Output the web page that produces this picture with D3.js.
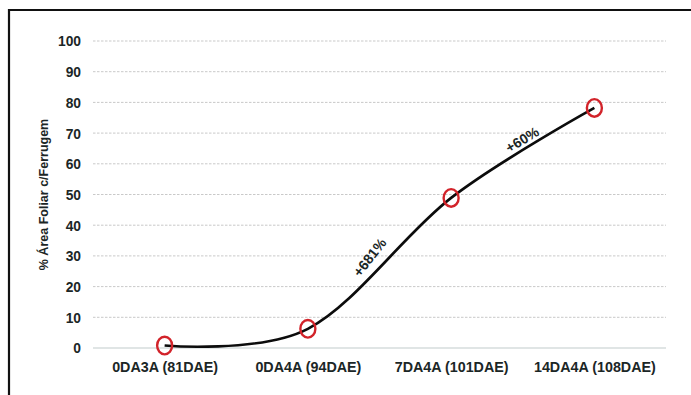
<!DOCTYPE html>
<html>
<head>
<meta charset="utf-8">
<script src="https://cdn.jsdelivr.net/npm/d3@7"></script>
<style>
  html, body { margin: 0; padding: 0; background: #fff; }
  svg { display: block; font-family: "Liberation Sans", Arial, sans-serif; }
</style>
</head>
<body>
<svg id="chart" width="691" height="395"></svg>
<script>
// Rust leaf-area progression by evaluation date
const categories = ["0DA3A (81DAE)", "0DA4A (94DAE)", "7DA4A (101DAE)", "14DA4A (108DAE)"];
const rustArea = [0.8, 6.26, 48.9, 78.2];
const yTicks = [0, 10, 20, 30, 40, 50, 60, 70, 80, 90, 100];
const increaseLabels = [
  { from: 1, to: 2, text: "+681%" },
  { from: 2, to: 3, text: "+60%" }
];
const yTitle = "% Área Foliar c/Ferrugem";

const svg = d3.select("#chart");
const textColor = "#1b2626";

// frame
svg.append("path")
  .attr("d", "M9,395 L9,10 L691,10")
  .attr("fill", "none")
  .attr("stroke", "#111")
  .attr("stroke-width", 2.2);

const x = d3.scalePoint().domain(categories).range([93, 666]).padding(0.5);
const y = d3.scaleLinear().domain([0, 100]).range([348, 41]);

// gridlines
svg.append("g").selectAll("line")
  .data(yTicks)
  .join("line")
  .attr("x1", 93).attr("x2", 666)
  .attr("y1", d => y(d)).attr("y2", d => y(d))
  .attr("stroke", d => d === 0 ? "#d6dcdc" : "#c9c9c9")
  .attr("stroke-width", d => d === 0 ? 1.4 : 1)
  .attr("stroke-dasharray", d => d === 0 ? null : "2.5,1.5");

// y axis labels
const yAxis = d3.axisLeft(y).tickValues(yTicks).tickSize(0).tickPadding(0);
const gy = svg.append("g").attr("transform", "translate(81,0)").call(yAxis);
gy.select(".domain").remove();
gy.selectAll("text")
  .attr("fill", textColor)
  .attr("font-size", 13.8)
  .attr("font-weight", "bold")
  .attr("dy", "0.36em");

// x axis labels
const xAxis = d3.axisBottom(x).tickSize(0).tickPadding(0);
const gx = svg.append("g").attr("transform", "translate(0,362)").call(xAxis);
gx.select(".domain").remove();
gx.selectAll("text")
  .attr("fill", textColor)
  .attr("font-size", 14.3)
  .attr("font-weight", "bold")
  .attr("dy", "0.71em");

// y title
svg.append("text")
  .attr("transform", `translate(48,${(y(0) + y(100)) / 2}) rotate(-90)`)
  .attr("text-anchor", "middle")
  .attr("fill", textColor)
  .attr("font-size", 12.5)
  .attr("font-weight", "bold")
  .text(yTitle);

// smoothed line
const pts = categories.map((c, i) => [x(c), y(rustArea[i])]);
svg.append("path")
  .attr("d", d3.line().curve(d3.curveCardinal.tension(0))(pts))
  .attr("fill", "none")
  .attr("stroke", "#0c0c0c")
  .attr("stroke-width", 2.6);

// highlighted points
svg.append("g").selectAll("ellipse")
  .data(pts)
  .join("ellipse")
  .attr("cx", d => d[0]).attr("cy", d => d[1])
  .attr("rx", 7.5).attr("ry", 8.8)
  .attr("fill", "none")
  .attr("stroke", "#d2232a")
  .attr("stroke-width", 2.4);

// increase annotations placed along the curve
const annotationPos = [
  { angle: -52, off: [-6, -3] },
  { angle: -31, off: [2, -9] }
];
increaseLabels.forEach((a, k) => {
  const p0 = pts[a.from], p1 = pts[a.to];
  const mx = (p0[0] + p1[0]) / 2 + annotationPos[k].off[0];
  const my = (p0[1] + p1[1]) / 2 + annotationPos[k].off[1];
  svg.append("text")
    .attr("transform", `translate(${mx},${my}) rotate(${annotationPos[k].angle})`)
    .attr("text-anchor", "middle")
    .attr("fill", textColor)
    .attr("font-size", 14)
    .attr("font-weight", "bold")
    .text(a.text);
});
</script>
</body>
</html>
